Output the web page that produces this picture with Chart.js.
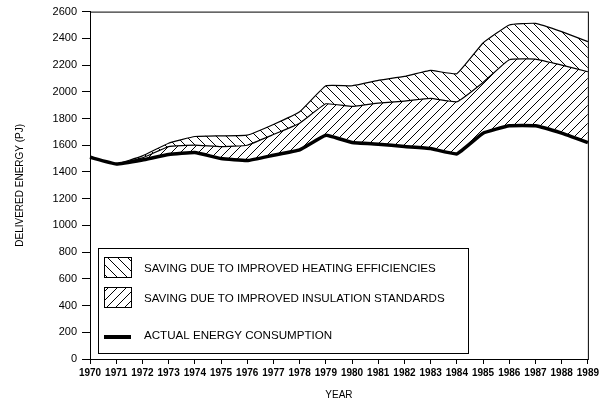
<!DOCTYPE html>
<html>
<head>
<meta charset="utf-8">
<script src="https://cdn.jsdelivr.net/npm/chart.js@4"></script>
<style>
  html, body { margin: 0; padding: 0; background: #fff; }
  #wrap { width: 602px; height: 407px; }
</style>
</head>
<body>
<div id="wrap"><canvas id="chart" width="602" height="407"></canvas></div>
<script>
const years = ['1970','1971','1972','1973','1974','1975','1976','1977','1978','1979',
               '1980','1981','1982','1983','1984','1985','1986','1987','1988','1989'];
// actual delivered energy (PJ)
const actual = [1510,1460,1490,1530,1545,1500,1485,1525,1565,1675,
                1620,1608,1590,1575,1535,1690,1745,1745,1690,1620];
// actual + saving from insulation standards
const withInsulation = [1510,1460,1505,1590,1600,1590,1600,1680,1765,1910,
                        1890,1915,1930,1950,1925,2070,2240,2245,2200,2150];
// actual + both savings (insulation + heating efficiencies)
const withHeating = [1510,1460,1520,1615,1665,1670,1675,1755,1850,2045,
                     2045,2085,2115,2160,2135,2365,2500,2512,2450,2375];

const legendItems = [
  'SAVING DUE TO IMPROVED HEATING EFFICIENCIES',
  'SAVING DUE TO IMPROVED INSULATION STANDARDS',
  'ACTUAL ENERGY CONSUMPTION'
];

const FONT = '"Liberation Sans", Arial, sans-serif';

function hatch(dir, size) {
  const c = document.createElement('canvas');
  c.width = size; c.height = size;
  const g = c.getContext('2d');
  g.fillStyle = '#fff';
  g.fillRect(0, 0, size, size);
  g.strokeStyle = '#000';
  g.lineWidth = 1;
  g.beginPath();
  if (dir === '/') {
    g.moveTo(-1, size + 1); g.lineTo(size + 1, -1);
    g.moveTo(-2, 1); g.lineTo(1, -2);
    g.moveTo(size - 1, size + 2); g.lineTo(size + 2, size - 1);
  } else {
    g.moveTo(-1, -1); g.lineTo(size + 1, size + 1);
    g.moveTo(size - 1, -2); g.lineTo(size + 2, 1);
    g.moveTo(-2, size - 1); g.lineTo(1, size + 2);
  }
  g.stroke();
  return g.createPattern(c, 'repeat');
}

const ctx = document.getElementById('chart').getContext('2d');
const insulPattern = hatch('/', 9);
const heatPattern = hatch('\\', 10);

const frameAndLegend = {
  id: 'frameAndLegend',
  afterDraw(chart) {
    const {ctx, chartArea: a} = chart;
    ctx.save();
    ctx.strokeStyle = '#000';
    ctx.lineWidth = 1;
    ctx.strokeRect(a.left + 0.5, a.top + 0.5, a.right - a.left, a.bottom - a.top);

    // legend box
    const bx = 98, by = 248, bw = 370, bh = 105;
    ctx.fillStyle = '#fff';
    ctx.fillRect(bx, by, bw, bh);
    ctx.strokeRect(bx + 0.5, by + 0.5, bw, bh);

    const sx = 104, sw = 27, sh = 20;
    const rows = [257, 287];
    const pats = [heatPattern, insulPattern];
    rows.forEach((y, i) => {
      ctx.fillStyle = pats[i];
      ctx.fillRect(sx, y, sw, sh);
      ctx.strokeRect(sx + 0.5, y + 0.5, sw, sh);
    });
    ctx.lineWidth = 4;
    ctx.beginPath();
    ctx.moveTo(sx, 337); ctx.lineTo(sx + sw, 337);
    ctx.stroke();

    ctx.fillStyle = '#000';
    ctx.font = '11.6px ' + FONT;
    ctx.textBaseline = 'middle';
    ctx.textAlign = 'left';
    const ty = [269, 299, 336];
    legendItems.forEach((t, i) => ctx.fillText(t, 144, ty[i]));
    ctx.restore();
  }
};

new Chart(ctx, {
  type: 'line',
  data: {
    labels: years,
    datasets: [
      {
        label: legendItems[2],
        data: actual,
        borderColor: '#000',
        borderWidth: 3.5,
        pointRadius: 0,
        fill: false,
        tension: 0.1
      },
      {
        label: legendItems[1],
        data: withInsulation,
        borderColor: '#000',
        borderWidth: 1.2,
        backgroundColor: insulPattern,
        pointRadius: 0,
        fill: '-1',
        tension: 0.1
      },
      {
        label: legendItems[0],
        data: withHeating,
        borderColor: '#000',
        borderWidth: 1.2,
        backgroundColor: heatPattern,
        pointRadius: 0,
        fill: '-1',
        tension: 0.1
      }
    ]
  },
  options: {
    responsive: false,
    animation: false,
    layout: { padding: { top: 11, right: 13, left: 0, bottom: 0 } },
    plugins: {
      legend: { display: false },
      tooltip: { enabled: false }
    },
    scales: {
      x: {
        offset: false,
        grid: { display: true, drawOnChartArea: false, drawTicks: true, tickLength: 5, color: '#000' },
        border: { display: true, color: '#000', width: 1 },
        ticks: {
          color: '#000',
          maxRotation: 0,
          autoSkip: false,
          padding: 3,
          font: { family: FONT, size: 10, weight: 'bold' }
        },
        title: {
          display: true,
          text: 'YEAR',
          color: '#000',
          padding: { top: 4, bottom: 6 },
          font: { family: FONT, size: 10 }
        },
        afterFit: s => { s.height = 48; }
      },
      y: {
        min: 0,
        max: 2600,
        grid: { display: true, drawOnChartArea: false, drawTicks: true, tickLength: 8, color: '#000' },
        border: { display: true, color: '#000', width: 1 },
        ticks: {
          stepSize: 200,
          color: '#000',
          padding: 5,
          callback: v => String(v),
          font: { family: FONT, size: 11 }
        },
        title: {
          display: true,
          text: 'DELIVERED ENERGY (PJ)',
          color: '#000',
          padding: { top: 14, bottom: 4 },
          font: { family: FONT, size: 10 }
        },
        afterFit: s => { s.width = 90; }
      }
    }
  },
  plugins: [frameAndLegend]
});
</script>
</body>
</html>
